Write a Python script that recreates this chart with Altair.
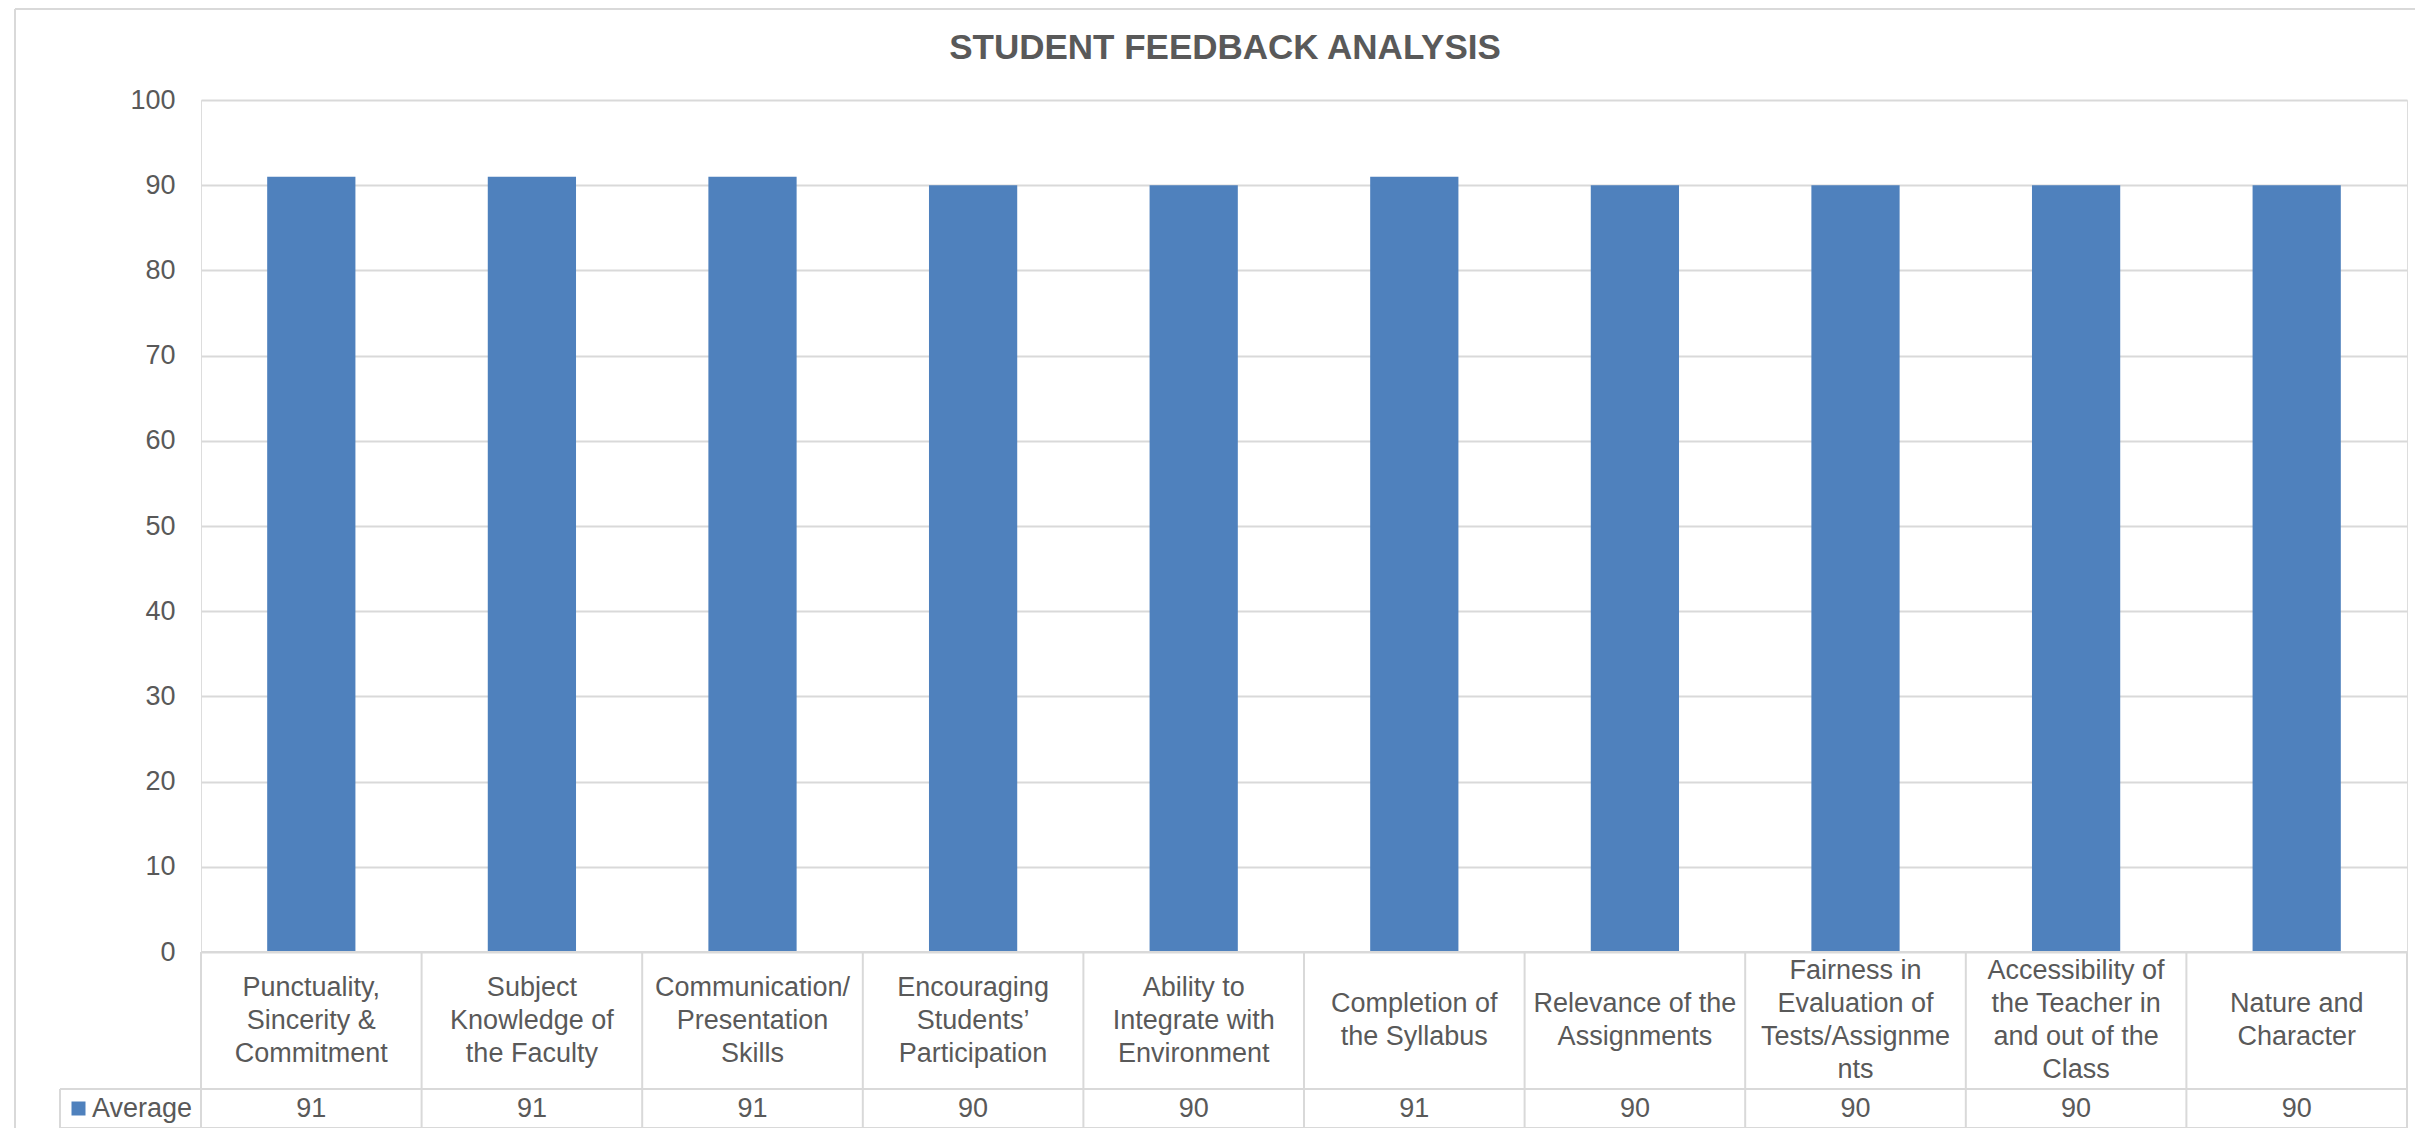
import altair as alt
import pandas as pd

# ---------------- data ----------------
TITLE = "STUDENT FEEDBACK ANALYSIS"
SERIES = "Average"
CATEGORIES = [
    "Punctuality,\nSincerity &\nCommitment",
    "Subject\nKnowledge of\nthe Faculty",
    "Communication/\nPresentation\nSkills",
    "Encouraging\nStudents’\nParticipation",
    "Ability to\nIntegrate with\nEnvironment",
    "Completion of\nthe Syllabus",
    "Relevance of the\nAssignments",
    "Fairness in\nEvaluation of\nTests/Assignme\nnts",
    "Accessibility of\nthe Teacher in\nand out of the\nClass",
    "Nature and\nCharacter",
]
VALUES = [91, 91, 91, 90, 90, 91, 90, 90, 90, 90]
Y_TICKS = [0, 10, 20, 30, 40, 50, 60, 70, 80, 90, 100]

# ---------------- style / layout ----------------
BLUE = "#4f81bd"
TEXT = "#595959"
LINE = "#d9d9d9"
FONT = "Liberation Sans"
FS = 27
LINE_H = 33

N = len(CATEGORIES)
PLOT_W = 2206
AXIS_PX = 852          # pixels for 0..100
CAT_ROW_PX = 137
VAL_ROW_PX = 39
PLOT_H = AXIS_PX + CAT_ROW_PX + VAL_ROW_PX
PX_PER_UNIT = AXIS_PX / 100.0
Y_MIN = -(CAT_ROW_PX + VAL_ROW_PX) / PX_PER_UNIT
CAT_ROW_BOTTOM = -CAT_ROW_PX / PX_PER_UNIT
CAT_ROW_MID = CAT_ROW_BOTTOM / 2
VAL_ROW_MID = (CAT_ROW_BOTTOM + Y_MIN) / 2
COL_PX = PLOT_W / N
LEGEND_LEFT = -0.5 - 141 / COL_PX
BAR_HALF = 0.2

df = pd.DataFrame({
    "idx": list(range(N)),
    "category": CATEGORIES,
    "value": VALUES,
    "series": [SERIES] * N,
})

hrules = pd.DataFrame({
    "x": [-0.5, LEGEND_LEFT, LEGEND_LEFT],
    "x2": [N - 0.5] * 3,
    "y": [0.0, CAT_ROW_BOTTOM, Y_MIN],
})
vrules = pd.DataFrame({
    "x": [k - 0.5 for k in range(N + 1)] + [LEGEND_LEFT],
    "y": [0.0] * (N + 1) + [CAT_ROW_BOTTOM],
    "y2": [Y_MIN] * (N + 2),
})

XSCALE = alt.Scale(domain=[-0.5, N - 0.5], nice=False, zero=False)
YSCALE = alt.Scale(domain=[Y_MIN, 100], nice=False, zero=False)
YAXIS = alt.Axis(values=Y_TICKS, grid=True, gridColor=LINE, gridWidth=2,
                 domain=False, ticks=False, tickSize=0, labelPadding=26,
                 labelFont=FONT, labelFontSize=FS, labelColor=TEXT, title=None)


def X(field):
    return alt.X(field, type="quantitative", scale=XSCALE, axis=None, title=None)


def Y(field):
    return alt.Y(field, type="quantitative", scale=YSCALE, axis=YAXIS, title=None)


base = alt.Chart(df)

bars = base.mark_rect(color=BLUE).transform_calculate(
    x0=f"datum.idx - {BAR_HALF}", x1=f"datum.idx + {BAR_HALF}"
).encode(
    x=X("x0"),
    x2="x1:Q",
    y=Y("value"),
    y2=alt.datum(0),
    color=alt.Color(
        "series:N",
        scale=alt.Scale(range=[BLUE]),
        legend=alt.Legend(
            orient="none", legendX=-136, legendY=995, title=None,
            symbolType="square", symbolSize=196, symbolStrokeWidth=0,
            labelFont=FONT, labelFontSize=FS, labelColor=TEXT,
            labelOffset=0, padding=0, labelLimit=400,
        ),
    ),
)

h_lines = alt.Chart(hrules).mark_rule(color=LINE, strokeWidth=2).encode(
    x=X("x"), x2="x2:Q", y=Y("y")
)
v_lines = alt.Chart(vrules).mark_rule(color=LINE, strokeWidth=2).encode(
    x=X("x"), y=Y("y"), y2="y2:Q"
)

# centre each multi-line label block inside the category row
cat_text = base.transform_calculate(
    nlines="length(split(datum.category, '\\n'))"
).transform_calculate(
    ty=f"{CAT_ROW_MID} + (datum.nlines - 1) / 2 * {LINE_H} / {PX_PER_UNIT}"
).mark_text(
    lineBreak="\n", align="center", baseline="middle", font=FONT,
    fontSize=FS, color=TEXT, lineHeight=LINE_H
).encode(x=X("idx"), y=Y("ty"), text="category:N")

val_text = base.mark_text(
    align="center", baseline="middle", font=FONT, fontSize=FS, color=TEXT
).encode(x=X("idx"), y=alt.datum(VAL_ROW_MID), text="value:Q")

frame_df = pd.DataFrame({"k": [0]})
frame_left = alt.Chart(frame_df).mark_rule(color=LINE, strokeWidth=2).encode(
    x=alt.value(-186), y=alt.value(-91), y2=alt.value(PLOT_H + 20)
)
frame_top = alt.Chart(frame_df).mark_rule(color=LINE, strokeWidth=2).encode(
    x=alt.value(-186), x2=alt.value(PLOT_W + 30), y=alt.value(-91)
)

chart = alt.layer(
    bars, h_lines, v_lines, cat_text, val_text, frame_left, frame_top
).properties(
    width=PLOT_W,
    height=PLOT_H,
    title=alt.TitleParams(
        TITLE, font=FONT, fontSize=35, fontWeight="bold", color=TEXT,
        anchor="middle", frame="group", dx=-79, offset=-86, baseline="alphabetic",
    ),
    autosize=alt.AutoSizeParams(type="none"),
    padding={"left": 193, "top": 92, "right": 8, "bottom": 0},
).configure_view(stroke=None).configure(background="white")

chart.save("out.html", embed_options={"renderer": "svg", "actions": False})
